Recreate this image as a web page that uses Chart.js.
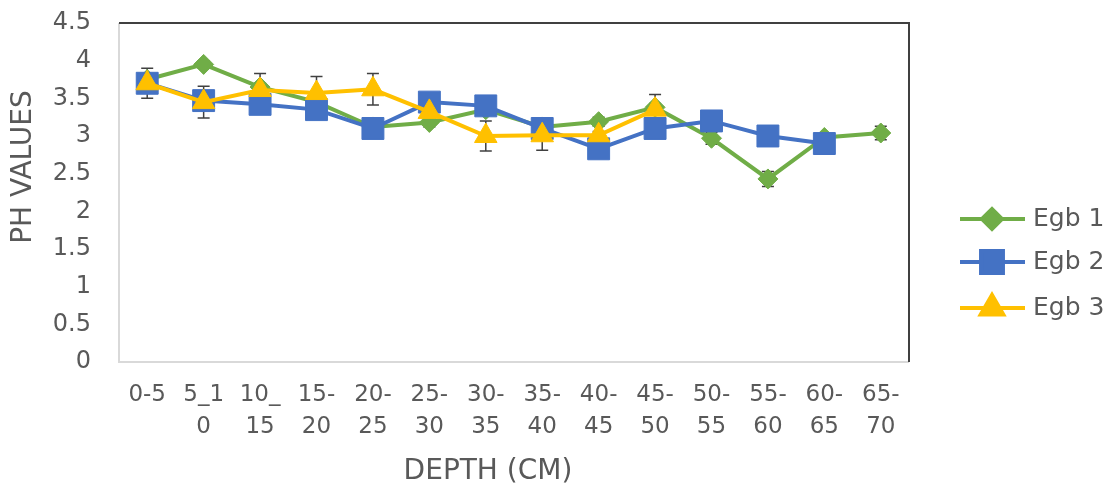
<!doctype html>
<html lang="en">
<head>
<meta charset="utf-8">
<title>PH values by depth</title>
<style>
  * { margin: 0; padding: 0; }
  body { background: #fff; }
  #chart { display: block; }
</style>
</head>
<body>
<canvas id="chart" width="1116" height="489"></canvas>
<script src="https://cdn.jsdelivr.net/npm/chart.js@4/dist/chart.umd.min.js"></script>
<script>
// depth classes (cm) and the wrapped tick labels as they appear under the axis
const depths = ['0-5', '5_10', '10_15', '15-20', '20-25', '25-30', '30-35',
                '35-40', '40-45', '45-50', '50-55', '55-60', '60-65', '65-70'];
const depthTicks = [['0-5'], ['5_1', '0'], ['10_', '15'], ['15-', '20'], ['20-', '25'],
                    ['25-', '30'], ['30-', '35'], ['35-', '40'], ['40-', '45'], ['45-', '50'],
                    ['50-', '55'], ['55-', '60'], ['60-', '65'], ['65-', '70']];

// pH values per site
const egb1 = [3.75, 3.95, 3.65, 3.45, 3.12, 3.18, 3.35, 3.12, 3.19, 3.38, 2.97, 2.43, 2.98, 3.04];
const egb2 = [3.70, 3.47, 3.42, 3.35, 3.10, 3.45, 3.40, 3.10, 2.83, 3.10, 3.20, 3.00, 2.90, null];
const egb3 = [3.70, 3.45, 3.61, 3.57, 3.62, 3.32, 3.00, 3.01, 3.01, 3.35, null, null, null, null];

// error bar half widths
const err1 = [0.05, 0.05, 0.05, 0.05, 0.05, 0.06, 0.05, 0.05, 0.06, 0.05, 0.08, 0.1, 0.05, 0.09];
const err2 = [0.05, 0.05, 0.05, 0.05, 0.05, 0.05, 0.05, 0.05, 0.05, 0.05, 0.05, 0.05, 0.05, null];
const err3 = [0.2, 0.21, 0.22, 0.22, 0.21, 0.05, 0.2, 0.2, 0.05, 0.2, null, null, null, null];

const yTicks = { min: 0, max: 4.5, step: 0.5 };

const GREEN = '#70ad47', BLUE = '#4472c4', GOLD = '#ffc000';
const TEXT = '#595959';
const FONT = 'DejaVu Sans';

const series = [
  { label: 'Egb 1', data: egb1, err: err1, color: GREEN, style: 'rectRot', radius: 10, order: 3 },
  { label: 'Egb 2', data: egb2, err: err2, color: BLUE, style: 'rect', radius: 15.5, order: 2 },
  { label: 'Egb 3', data: egb3, err: err3, color: GOLD, style: 'triangle', radius: 13, order: 1 }
];

// error bars sit under the markers
const errorBars = {
  id: 'errorBars',
  beforeDatasetsDraw(chart) {
    const { ctx, scales: { x, y } } = chart;
    ctx.save();
    ctx.strokeStyle = '#404040';
    ctx.lineWidth = 1.5;
    series.forEach(s => {
      s.data.forEach((v, i) => {
        if (v == null || s.err[i] == null) return;
        const px = x.getPixelForValue(i);
        const top = y.getPixelForValue(v + s.err[i]);
        const bot = y.getPixelForValue(v - s.err[i]);
        ctx.beginPath();
        ctx.moveTo(px, top); ctx.lineTo(px, bot);
        ctx.moveTo(px - 6, top); ctx.lineTo(px + 6, top);
        ctx.moveTo(px - 6, bot); ctx.lineTo(px + 6, bot);
        ctx.stroke();
      });
    });
    ctx.restore();
  }
};

// plot frame, axis titles and the legend at the right
const decorations = {
  id: 'decorations',
  afterDraw(chart) {
    const { ctx, chartArea: a } = chart;
    ctx.save();
    ctx.lineWidth = 2;
    ctx.strokeStyle = '#d9d9d9';
    ctx.beginPath();
    ctx.moveTo(a.left, a.top); ctx.lineTo(a.left, a.bottom); ctx.lineTo(a.right, a.bottom);
    ctx.stroke();
    ctx.strokeStyle = '#404040';
    ctx.beginPath();
    ctx.moveTo(a.left, a.top); ctx.lineTo(a.right, a.top); ctx.lineTo(a.right, a.bottom);
    ctx.stroke();

    ctx.fillStyle = TEXT;
    ctx.textAlign = 'center';
    ctx.textBaseline = 'middle';
    ctx.font = '28px "' + FONT + '"';
    ctx.fillText('DEPTH (CM)', 488, 472);
    ctx.save();
    ctx.translate(24, 167);
    ctx.rotate(-Math.PI / 2);
    ctx.fillText('PH VALUES', 0, 0);
    ctx.restore();

    const rows = [219, 262, 308];
    series.forEach((s, k) => {
      const ly = rows[k];
      ctx.strokeStyle = s.color;
      ctx.lineWidth = 4;
      ctx.beginPath();
      ctx.moveTo(960, ly); ctx.lineTo(1025, ly);
      ctx.stroke();
      ctx.fillStyle = s.color;
      ctx.strokeStyle = s.color;
      Chart.helpers.drawPoint(ctx, { pointStyle: s.style, radius: s.radius, rotation: 0, borderWidth: 1 }, 992, ly);
      ctx.fillStyle = TEXT;
      ctx.textAlign = 'left';
      ctx.font = '25px "' + FONT + '"';
      ctx.fillText(s.label, 1033, ly);
    });
    ctx.restore();
  }
};

const data = {
  labels: depths,
  datasets: series.map(s => ({
    label: s.label,
    data: s.data,
    order: s.order,
    borderColor: s.color,
    backgroundColor: s.color,
    borderWidth: 4,
    pointStyle: s.style,
    pointRadius: s.radius,
    pointBorderWidth: 1,
    pointBackgroundColor: s.color,
    pointBorderColor: s.color,
    tension: 0,
    spanGaps: false
  }))
};

const config = {
  type: 'line',
  data,
  options: {
    responsive: false,
    animation: false,
    layout: { padding: { left: 0, right: 207, top: 23, bottom: 0 } },
    plugins: { legend: { display: false }, tooltip: { enabled: false } },
    scales: {
      x: {
        offset: true,
        grid: { display: false, drawTicks: false },
        border: { display: false },
        ticks: {
          color: TEXT,
          font: { family: FONT, size: 23, lineHeight: 1.4 },
          padding: 17,
          maxRotation: 0,
          autoSkip: false,
          callback: (v, i) => depthTicks[i]
        },
        afterFit: s => { s.height = 127; }
      },
      y: {
        min: yTicks.min,
        max: yTicks.max,
        grid: { display: false, drawTicks: false },
        border: { display: false },
        ticks: {
          stepSize: yTicks.step,
          color: TEXT,
          font: { family: FONT, size: 24 },
          padding: 28,
          callback: v => String(v)
        },
        afterFit: s => { s.width = 119; s.paddingTop = 0; s.paddingBottom = 0; }
      }
    }
  },
  plugins: [errorBars, decorations]
};

const chart = new Chart(document.getElementById('chart'), config);
</script>
</body>
</html>
